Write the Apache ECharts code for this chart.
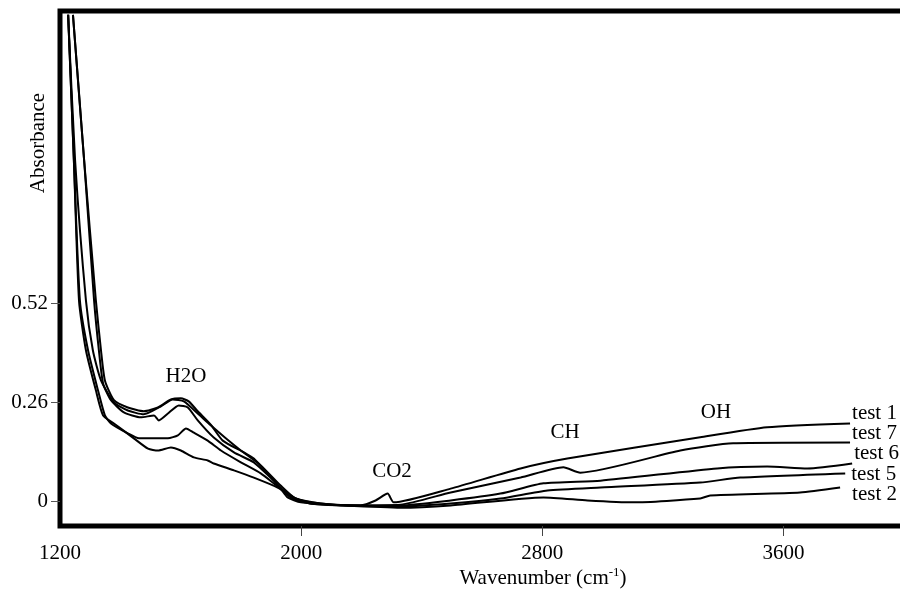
<!DOCTYPE html>
<html>
<head>
<meta charset="utf-8">
<script src="https://cdn.jsdelivr.net/npm/echarts@6/dist/echarts.min.js"></script>
<style>
  html, body { margin: 0; padding: 0; background: #ffffff; }
  #chart { width: 900px; height: 592px; }
</style>
</head>
<body>
<div id="chart"></div>
<script>
// ---- Data ----
const wavenumberTicks = [1200, 2000, 2800, 3600];
const absorbanceTicks = [0, 0.26, 0.52];
const seriesNames = ['test 1', 'test 7', 'test 6', 'test 5', 'test 2'];

const test1 = [[1243,1.276],[1280,0.895],[1319,0.527],[1336,0.396],[1349,0.317],[1379,0.265],[1425,0.246],[1478,0.236],[1525,0.246],[1568,0.267],[1601,0.270],[1627,0.262],[1657,0.236],[1700,0.201],[1740,0.159],[1810,0.128],[1843,0.112],[1889,0.073],[1932,0.033],[1955,0.010],[1999,-0.003],[2098,-0.009],[2197,-0.011],[2247,0.002],[2287,0.020],[2307,-0.003],[2496,0.033],[2728,0.086],[2883,0.112],[3324,0.168],[3546,0.194],[3821,0.204]];

const test7 = [[1227,1.276],[1250,0.895],[1286,0.527],[1309,0.396],[1336,0.317],[1379,0.259],[1425,0.238],[1478,0.228],[1535,0.249],[1574,0.267],[1611,0.262],[1657,0.230],[1700,0.199],[1750,0.165],[1800,0.133],[1866,0.094],[1932,0.041],[1982,0.007],[2065,-0.006],[2164,-0.011],[2330,-0.009],[2496,0.023],[2728,0.062],[2870,0.089],[2926,0.075],[3258,0.133],[3433,0.152],[3821,0.154]];

const test6 = [[1243,1.276],[1280,0.895],[1313,0.527],[1329,0.396],[1343,0.309],[1369,0.265],[1412,0.233],[1468,0.220],[1512,0.225],[1528,0.212],[1558,0.230],[1594,0.251],[1624,0.246],[1657,0.212],[1710,0.167],[1777,0.128],[1843,0.102],[1909,0.054],[1965,0.010],[2032,-0.006],[2164,-0.011],[2330,-0.011],[2496,0.002],[2661,0.020],[2804,0.047],[2993,0.054],[3380,0.086],[3546,0.091],[3679,0.086],[3828,0.099]];

const test5 = [[1227,1.276],[1246,0.895],[1266,0.527],[1293,0.396],[1326,0.291],[1349,0.225],[1369,0.204],[1425,0.178],[1462,0.165],[1558,0.165],[1591,0.173],[1618,0.191],[1644,0.180],[1690,0.159],[1734,0.133],[1800,0.102],[1866,0.073],[1932,0.033],[1982,0.007],[2065,-0.006],[2164,-0.011],[2330,-0.014],[2496,-0.006],[2661,0.007],[2817,0.028],[2993,0.036],[3324,0.049],[3457,0.062],[3805,0.073]];

const test2 = [[1227,1.276],[1246,0.895],[1263,0.527],[1286,0.396],[1319,0.291],[1343,0.225],[1379,0.204],[1445,0.165],[1492,0.138],[1525,0.133],[1568,0.141],[1601,0.133],[1644,0.115],[1690,0.107],[1710,0.099],[1777,0.081],[1843,0.062],[1922,0.036],[1975,0.010],[2032,-0.006],[2131,-0.011],[2330,-0.017],[2496,-0.011],[2804,0.010],[2950,0.002],[3102,-0.003],[3324,0.007],[3357,0.015],[3655,0.023],[3788,0.036]];

const seriesData = [test1, test7, test6, test5, test2];

// ---- Presentation ----
const FONT = '"Liberation Serif", "Times New Roman", "DejaVu Serif", serif';
const endLabelOffsets = [[0, -10], [0, -9], [0, -10], [4, 1], [10, 7]];

const chart = echarts.init(document.getElementById('chart'), null, { renderer: 'canvas' });

const series = seriesNames.map((name, i) => ({
  name: name,
  type: 'line',
  data: seriesData[i],
  showSymbol: false,
  smooth: 0.2,
  lineStyle: { color: '#000', width: 2 },
  emphasis: { disabled: true },
  endLabel: {
    show: true,
    formatter: '{a}',
    color: '#000',
    fontFamily: FONT,
    fontSize: 21,
    distance: 2,
    offset: endLabelOffsets[i]
  }
}));

chart.setOption({
  animation: false,
  backgroundColor: '#ffffff',
  grid: {
    left: 60, right: -4, top: 11, bottom: 66,
    show: true, borderColor: '#000', borderWidth: 5,
    backgroundColor: 'transparent',
    containLabel: false,
    outerBoundsMode: 'none'
  },
  xAxis: {
    type: 'value',
    min: 1200, max: 4000,
    splitLine: { show: false },
    axisLine: { show: false, onZero: false },
    axisTick: { show: true, inside: false, length: 10, customValues: [2000, 2800, 3600],
                lineStyle: { color: '#444', width: 1 } },
    axisLabel: { show: true, customValues: wavenumberTicks, margin: 17,
                 formatter: v => String(v),
                 color: '#000', fontFamily: FONT, fontSize: 21,
                 showMinLabel: true, showMaxLabel: true }
  },
  yAxis: {
    type: 'value',
    min: -0.065, max: 1.286,
    splitLine: { show: false },
    axisLine: { show: false, onZero: false },
    axisTick: { show: true, inside: false, length: 9, customValues: absorbanceTicks,
                lineStyle: { color: '#555', width: 1 } },
    axisLabel: { show: true, customValues: absorbanceTicks, margin: 12,
                 formatter: v => String(v),
                 color: '#000', fontFamily: FONT, fontSize: 21,
                 showMinLabel: true, showMaxLabel: true }
  },
  graphic: [
    { type: 'text', x: 38, y: 143, rotation: Math.PI / 2,
      style: { text: 'Absorbance', fill: '#000', font: '21px ' + FONT, align: 'center', verticalAlign: 'middle' } },
    { type: 'text', x: 543, y: 578,
      style: {
        text: '{a|Wavenumber (cm}{s|-1}{a|)}',
        align: 'center', verticalAlign: 'middle',
        rich: {
          a: { fill: '#000', fontFamily: FONT, fontSize: 21, lineHeight: 24 },
          s: { fill: '#000', fontFamily: FONT, fontSize: 13, lineHeight: 24, verticalAlign: 'top', padding: [0, 0, 10, 0] }
        }
      } },
    { type: 'text', x: 186, y: 376, style: { text: 'H2O', fill: '#000', font: '21px ' + FONT, align: 'center', verticalAlign: 'middle' } },
    { type: 'text', x: 392, y: 471, style: { text: 'CO2', fill: '#000', font: '21px ' + FONT, align: 'center', verticalAlign: 'middle' } },
    { type: 'text', x: 565, y: 432, style: { text: 'CH', fill: '#000', font: '21px ' + FONT, align: 'center', verticalAlign: 'middle' } },
    { type: 'text', x: 716, y: 412, style: { text: 'OH', fill: '#000', font: '21px ' + FONT, align: 'center', verticalAlign: 'middle' } }
  ],
  series: series
});
</script>
</body>
</html>
